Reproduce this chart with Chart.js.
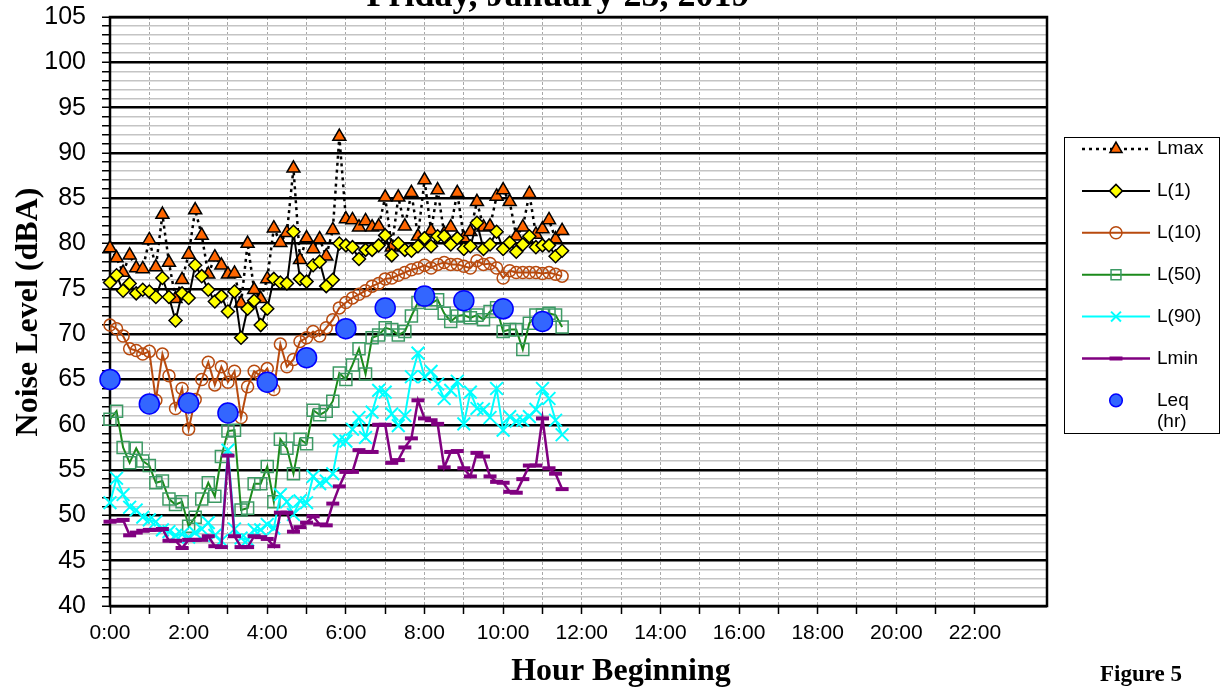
<!DOCTYPE html>
<html>
<head>
<meta charset="utf-8">
<title>Noise Level - Friday, January 25, 2019</title>
<script src="https://cdn.jsdelivr.net/npm/chart.js@4/dist/chart.umd.min.js"></script>
<style>
  body { margin: 0; background: #fff; }
  canvas { display: block; }
</style>
</head>
<body>
<canvas id="chart" width="1222" height="687"></canvas>
<script>
// 10 minute readings from 0:00 to 11:30 (dBA)
const lmax = [
  79.5, 78.4, 76.8, 78.7, 77.3, 77.2, 80.4, 77.4, 83.2, 77.9,
  73.9, 76.0, 78.8, 83.7, 80.9, 76.6, 78.5, 77.6, 76.6, 76.7,
  73.4, 80.0, 74.9, 73.9, 76.1, 81.7, 80.1, 81.2, 88.3, 78.2,
  80.6, 79.4, 80.5, 78.6, 81.5, 91.8, 82.7, 82.6, 81.8, 82.5,
  81.8, 81.9, 85.1, 79.6, 85.1, 81.9, 85.6, 80.8, 87.0, 81.4,
  85.9, 81.1, 81.8, 85.6, 80.6, 81.3, 84.6, 81.8, 81.9, 85.2,
  85.9, 84.6, 80.8, 81.8, 85.5, 81.0, 81.6, 82.6, 80.5, 81.4]
const l1 = [
  75.7, 76.5, 74.8, 75.6, 74.5, 74.9, 74.7, 74.1, 76.2, 74.1,
  71.5, 74.5, 74.0, 77.6, 76.4, 74.9, 73.6, 74.2, 72.5, 74.7,
  69.6, 72.8, 73.7, 71.0, 72.8, 76.1, 75.7, 75.6, 81.3, 76.1,
  75.8, 77.6, 78.0, 75.3, 76.0, 80.0, 79.8, 79.6, 78.3, 79.3,
  79.3, 79.8, 80.9, 78.7, 80.0, 79.3, 79.2, 79.7, 80.6, 79.7,
  80.8, 80.8, 79.9, 80.6, 79.4, 79.7, 82.3, 79.4, 79.9, 81.3,
  79.4, 80.1, 79.1, 79.9, 80.8, 79.6, 79.8, 79.8, 78.6, 79.2]
const l10 = [
  71.0, 70.6, 69.8, 68.4, 68.2, 67.8, 68.1, 62.7, 67.8, 65.4,
  61.8, 64.0, 59.5, 62.8, 65.0, 66.9, 64.4, 66.4, 64.7, 65.9,
  60.8, 64.2, 65.9, 65.4, 66.2, 63.9, 68.9, 66.4, 67.2, 69.2,
  69.6, 70.3, 69.8, 70.7, 71.6, 72.9, 73.5, 74.0, 74.4, 74.8,
  75.3, 75.6, 76.1, 76.2, 76.5, 76.8, 77.1, 77.3, 77.6, 77.3,
  77.7, 77.9, 77.7, 77.7, 77.5, 77.3, 78.1, 77.7, 77.8, 77.3,
  76.2, 77.0, 76.8, 76.8, 76.8, 76.8, 76.7, 76.8, 76.6, 76.4]
const l50 = [
  60.6, 61.5, 57.5, 55.8, 57.4, 56.0, 55.5, 53.6, 53.8, 51.8,
  51.2, 51.5, 48.8, 49.8, 51.8, 53.6, 52.1, 56.5, 59.3, 59.4,
  50.6, 50.8, 53.5, 53.5, 55.4, 51.5, 58.4, 57.4, 54.6, 58.4,
  57.9, 61.6, 61.1, 61.5, 62.6, 65.7, 65.0, 66.6, 68.4, 65.6,
  69.6, 69.9, 70.7, 70.5, 69.9, 70.3, 72.0, 73.5, 73.8, 73.4,
  73.8, 72.3, 71.4, 72.0, 72.1, 71.8, 72.1, 71.6, 72.5, 72.9,
  70.3, 70.5, 70.5, 68.3, 71.2, 72.1, 72.1, 72.3, 72.1, 70.8]
const l90 = [
  51.4, 54.1, 52.3, 50.9, 50.6, 49.8, 49.5, 49.3, 48.4, 48.2,
  47.8, 47.9, 47.6, 48.1, 48.5, 49.2, 47.8, 47.2, 57.2, 48.5,
  47.5, 47.3, 48.4, 48.4, 49.0, 48.6, 52.3, 51.5, 50.1, 51.6,
  51.4, 54.3, 53.5, 53.8, 54.6, 58.3, 58.2, 59.5, 60.8, 58.6,
  61.4, 63.8, 63.6, 61.2, 59.9, 61.0, 65.3, 67.9, 65.3, 65.9,
  64.5, 62.9, 63.8, 64.8, 60.1, 63.6, 61.8, 61.7, 60.8, 64.0,
  59.4, 60.9, 60.4, 60.5, 60.9, 61.7, 64.0, 62.9, 60.5, 58.9]
const lmin = [
  49.3, 49.4, 49.5, 47.8, 48.1, 48.3, 48.4, 48.4, 48.5, 47.2,
  47.2, 46.4, 47.3, 47.3, 47.3, 47.7, 46.6, 46.5, 56.6, 47.7,
  46.5, 46.5, 47.7, 47.6, 47.4, 46.6, 50.3, 50.3, 48.2, 48.7,
  49.2, 49.9, 49.0, 48.9, 51.3, 53.2, 54.8, 54.8, 57.2, 57.0,
  57.0, 60.0, 60.0, 55.8, 56.1, 57.5, 58.5, 62.7, 60.7, 60.5,
  60.1, 55.3, 57.0, 57.1, 55.2, 54.3, 56.9, 56.5, 54.3, 53.7,
  53.6, 52.6, 52.5, 54.0, 55.5, 55.5, 60.7, 55.2, 54.6, 52.9]

// hourly Leq
const leqHours = [0, 1, 2, 3, 4, 5, 6, 7, 8, 9, 10, 11]
const leq = [65.0, 62.3, 62.4, 61.3, 64.7, 67.4, 70.6, 72.9, 74.2, 73.7, 72.8, 71.4]

const hourLabels = ['0:00', '2:00', '4:00', '6:00', '8:00', '10:00', '12:00', '14:00', '16:00', '18:00', '20:00', '22:00']
const lastSlot = 23 + 50/60 // axis runs to 23:50

// index i -> hour i/6 (10 minute slots)
function toPoints(values){
    return values.map((v, i) => ({x: i/6, y: v}))
}

const datasets = [
    {label: 'Lmax', data: toPoints(lmax), borderColor: '#000', borderWidth: 2.5, borderDash: [3, 4],
     pointStyle: 'triangle', pointRadius: 7.5, pointBackgroundColor: '#FF6600', pointBorderColor: '#000', pointBorderWidth: 1.5, order: 7},
    {label: 'L(1)', data: toPoints(l1), borderColor: '#000', borderWidth: 2,
     pointStyle: 'rectRot', pointRadius: 6.5, pointBackgroundColor: '#FFFF00', pointBorderColor: '#000', pointBorderWidth: 1.5, order: 6},
    {label: 'L(10)', data: toPoints(l10), borderColor: '#B84A0E', borderWidth: 2,
     pointStyle: 'circle', pointRadius: 6, pointBackgroundColor: 'rgba(0,0,0,0)', pointBorderColor: '#B84A0E', pointBorderWidth: 1.5, order: 5},
    {label: 'L(50)', data: toPoints(l50), borderColor: '#1B8A1B', borderWidth: 2,
     pointStyle: 'rect', pointRadius: 8.5, pointBackgroundColor: 'rgba(0,0,0,0)', pointBorderColor: '#3C9A64', pointBorderWidth: 1.5, order: 4},
    {label: 'L(90)', data: toPoints(l90), borderColor: '#00FFFF', borderWidth: 2,
     pointStyle: 'crossRot', pointRadius: 9, pointBackgroundColor: '#00FFFF', pointBorderColor: '#00FFFF', pointBorderWidth: 2, order: 3},
    {label: 'Lmin', data: toPoints(lmin), borderColor: '#800080', borderWidth: 2.5,
     pointStyle: 'line', pointRadius: 6.5, pointBackgroundColor: '#800080', pointBorderColor: '#800080', pointBorderWidth: 4, order: 2},
    {label: 'Leq (hr)', data: leq.map((v, i) => ({x: leqHours[i], y: v})), showLine: false,
     pointStyle: 'circle', pointRadius: 10, pointBackgroundColor: '#3366FF', pointBorderColor: '#0000FF', pointBorderWidth: 1.5, order: 1}
]
datasets.forEach(d => { d.fill = false; d.tension = 0; d.clip = false })

const SERIF = '"Liberation Serif", "Times New Roman", serif'

const decorations = {
    id: 'decorations',
    beforeDatasetsDraw(chart){
        const {ctx, chartArea: a} = chart
        ctx.save()
        ctx.strokeStyle = '#000'
        ctx.lineWidth = 2.5
        ctx.strokeRect(a.left, a.top, a.right - a.left, a.bottom - a.top)
        ctx.restore()
    },
    afterDraw(chart){
        const ctx = chart.ctx
        ctx.save()
        ctx.fillStyle = '#000'
        ctx.textAlign = 'center'
        ctx.textBaseline = 'alphabetic'
        ctx.font = 'bold 36px ' + SERIF
        ctx.fillText('Friday, January 25, 2019', 558, 6)
        ctx.font = 'bold 32px ' + SERIF
        ctx.fillText('Hour Beginning', 621, 680)
        ctx.font = 'bold 23px ' + SERIF
        ctx.fillText('Figure 5', 1141, 681)
        ctx.save()
        ctx.translate(29, 312)
        ctx.rotate(-Math.PI/2)
        ctx.font = 'bold 32px ' + SERIF
        ctx.textBaseline = 'middle'
        ctx.fillText('Noise Level (dBA)', 0, 0)
        ctx.restore()

        // legend
        ctx.fillStyle = '#fff'
        ctx.fillRect(1064, 137, 155, 296)
        ctx.strokeStyle = '#000'
        ctx.lineWidth = 1
        ctx.strokeRect(1064.5, 137.5, 155, 296)
        ctx.font = '19px "Liberation Sans", Arial, sans-serif'
        ctx.textAlign = 'left'
        ctx.textBaseline = 'middle'
        datasets.forEach((ds, k) => {
            const y = 149 + k*41.9
            if(ds.showLine !== false){
                ctx.beginPath()
                ctx.setLineDash(ds.borderDash || [])
                ctx.strokeStyle = ds.borderColor
                ctx.lineWidth = ds.borderWidth
                ctx.moveTo(1082, y)
                ctx.lineTo(1150, y)
                ctx.stroke()
                ctx.setLineDash([])
            }
            ctx.fillStyle = ds.pointBackgroundColor
            ctx.strokeStyle = ds.pointBorderColor
            ctx.lineWidth = ds.pointBorderWidth
            const r = ds.showLine === false ? 6.3 : Math.min(ds.pointRadius, 7)
            Chart.helpers.drawPoint(ctx, {pointStyle: ds.pointStyle, radius: r, borderWidth: ds.pointBorderWidth, rotation: 0}, 1116, y)
            ctx.fillStyle = '#000'
            if(ds.label == 'Leq (hr)'){
                ctx.fillText('Leq', 1157, y)
                ctx.fillText('(hr)', 1157, y + 21)
            }else{
                ctx.fillText(ds.label, 1157, y)
            }
        })
        ctx.restore()
    }
}

const ctx = document.getElementById('chart').getContext('2d')
const myChart = new Chart(ctx, {
    type: 'line',
    data: {datasets: datasets},
    options: {
        responsive: false,
        animation: false,
        layout: {padding: {top: 17, right: 175, left: 0, bottom: 0}},
        plugins: {
            legend: {display: false},
            title: {display: false},
            tooltip: {enabled: false}
        },
        scales: {
            x: {
                type: 'linear',
                min: 0,
                max: lastSlot,
                afterFit: (s) => { s.height = 81; s.paddingLeft = 0; s.paddingRight = 0 },
                ticks: {
                    stepSize: 1,
                    autoSkip: false,
                    maxRotation: 0,
                    minRotation: 0,
                    padding: 7,
                    color: '#000',
                    font: {family: '"Liberation Sans", Arial, sans-serif', size: 21},
                    callback: (v) => v % 2 === 0 ? hourLabels[v/2] : ''
                },
                grid: {
                    color: (c) => c.tick && Number.isInteger(c.tick.value) ? '#A8A8A8' : 'rgba(0,0,0,0)',
                    lineWidth: 1,
                    tickColor: (c) => c.tick && Number.isInteger(c.tick.value) ? '#000' : 'rgba(0,0,0,0)',
                    tickLength: 8,
                    tickWidth: 1.5,
                    tickBorderDash: []
                },
                border: {display: false, dash: [3, 2]}
            },
            y: {
                min: 40,
                max: 105,
                afterFit: (s) => { s.width = 110; s.paddingTop = 0; s.paddingBottom = 0 },
                ticks: {
                    stepSize: 1,
                    autoSkip: false,
                    maxTicksLimit: 200,
                    padding: 16,
                    color: '#000',
                    font: {family: '"Liberation Sans", Arial, sans-serif', size: 25},
                    callback: (v) => v % 5 === 0 ? v : ''
                },
                grid: {
                    color: (c) => c.tick && c.tick.value % 5 === 0 ? '#000' : '#C4C4C4',
                    lineWidth: (c) => c.tick && c.tick.value % 5 === 0 ? 2.5 : 1.5,
                    tickColor: '#000',
                    tickLength: 8,
                    tickWidth: 1.5,
                    tickBorderDash: []
                },
                border: {display: false}
            }
        }
    },
    plugins: [decorations]
})
</script>
</body>
</html>
